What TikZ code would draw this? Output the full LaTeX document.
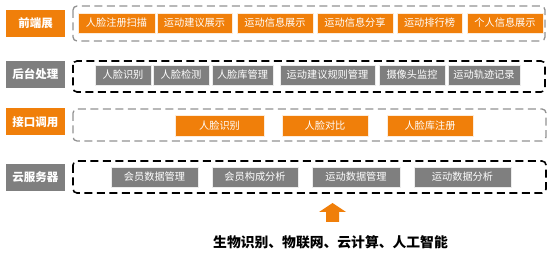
\documentclass[tikz,border=0pt]{standalone}
\usepackage{fontspec}
\setmainfont{Noto Sans CJK SC}
\definecolor{ornge}{RGB}{240,127,10}
\definecolor{grey}{RGB}{127,127,127}
\begin{document}
\begin{tikzpicture}[x=1pt,y=-1pt,
  fbox/.style={fill=ornge, draw=white!85!ornge, line width=0.6pt, text=white,
    inner sep=0pt, minimum height=20pt, font=\fontsize{10.2}{12}\selectfont},
  gbox/.style={fbox, fill=grey, draw=white!85!grey},
  lbl/.style={inner sep=0pt, minimum width=59pt, minimum height=27pt, text=white,
    font=\fontsize{11.5}{13}\selectfont\bfseries},
  lightframe/.style={draw=grey!85, line width=1.3pt, dash pattern=on 8pt off 4.5pt, rounded corners=4pt},
  darkframe/.style={draw=black, line width=1.6pt, dash pattern=on 8pt off 4.5pt, rounded corners=4pt}]
\useasboundingbox (0,0) rectangle (554,256);

% layer labels
\node[lbl, fill=ornge] (front) at (35.5,23.5) {前端展};
\node[lbl, fill=grey]  (back)  at (35.5,74.5) {后台处理};
\node[lbl, fill=ornge] (api)   at (35.5,122) {接口调用};
\node[lbl, fill=grey]  (cloud) at (35.5,177.5) {云服务器};

% dashed frames round each layer
\draw[lightframe] (73,6) rectangle (545,41);
\draw[darkframe]  (73,61) rectangle (545,92);
\draw[lightframe] (73,109) rectangle (546,141);
\draw[darkframe]  (73,161) rectangle (546,193);

% front end
\node[fbox, minimum width=77pt] (f1) at (116.5,23) {人脸注册扫描};
\node[fbox, minimum width=75pt] (f2) at (194.5,23) {运动建议展示};
\node[fbox, minimum width=76pt] (f3) at (275,23) {运动信息展示};
\node[fbox, minimum width=76pt] (f4) at (355,23) {运动信息分享};
\node[fbox, minimum width=65pt] (f5) at (429.5,23) {运动排行榜};
\node[fbox, minimum width=76pt] (f6) at (505,23) {个人信息展示};

% back end
\node[gbox, minimum width=56pt] (b1) at (123,75) {人脸识别};
\node[gbox, minimum width=56pt] (b2) at (181,75) {人脸检测};
\node[gbox, minimum width=61pt] (b3) at (242.5,75) {人脸库管理};
\node[gbox, minimum width=95pt] (b4) at (327.5,75) {运动建议规则管理};
\node[gbox, minimum width=66pt] (b5) at (412,75) {摄像头监控};
\node[gbox, minimum width=72pt] (b6) at (484,75) {运动轨迹记录};

% interface calls
\node[fbox, minimum width=89pt, minimum height=21pt] (i1) at (219.5,125.5) {人脸识别};
\node[fbox, minimum width=86pt, minimum height=21pt] (i2) at (325,125.5) {人脸对比};
\node[fbox, minimum width=86pt, minimum height=21pt] (i3) at (430,125.5) {人脸库注册};

% cloud server
\node[gbox, minimum width=87pt] (s1) at (154.5,177) {会员数据管理};
\node[gbox, minimum width=86pt] (s2) at (255,177) {会员构成分析};
\node[gbox, minimum width=88pt] (s3) at (356,177) {运动数据管理};
\node[gbox, minimum width=97pt] (s4) at (462.5,177) {运动数据分析};

% support arrow and technologies
\fill[ornge] (332.5,203) -- (346,212) -- (339,212) -- (339,222) -- (326,222) -- (326,212) -- (319,212) -- cycle;
\node[font=\fontsize{13.8}{15}\selectfont\bfseries, inner sep=0pt] (tech) at (330.5,242) {生物识别、物联网、云计算、人工智能};
\end{tikzpicture}
\end{document}
